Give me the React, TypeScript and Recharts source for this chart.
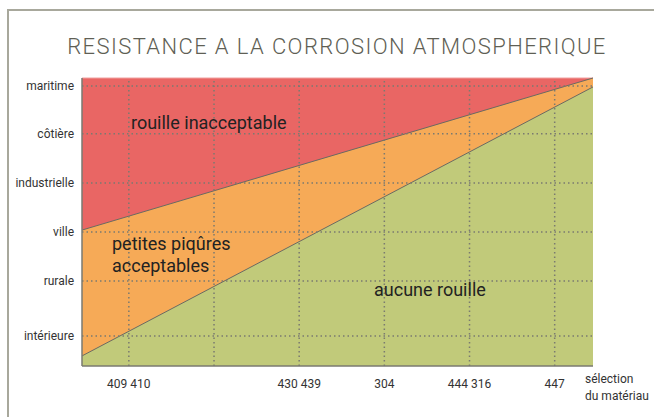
import React from "react";
import { ComposedChart, Area, XAxis, YAxis, ReferenceLine } from "recharts";

// x positions of the material selection ticks (index scale)
const xTicks = [0, 1, 2, 3, 4, 5];
const xLabels = ["409 410", "", "430 439", "304", "444 316", "447"];

// y scale (0..100) positions of the environment categories
const yTicks = [10.4, 29.5, 46.5, 63.5, 80.6, 97.2];
const yLabels = ["intérieure", "rurale", "ville", "industrielle", "côtière", "maritime"];

// boundary lines at the left and right edge of the chart
const xEdges = [-0.55, 5.45];
const topLimit = [100, 100];
const redOrangeBoundary = [47.2, 100];
const orangeGreenBoundary = [3.5, 96.9];

const data = xEdges.map((x, i) => ({
  x,
  top: topLimit[i],
  upper: redOrangeBoundary[i],
  lower: orangeGreenBoundary[i],
}));

const FONT = "Roboto, 'Open Sans', sans-serif";

export default function App() {
  return (
    <div style={{ position: "absolute", left: 0, top: 0, width: 654, height: 417, background: "#fff" }}>
      <ComposedChart
        width={654}
        height={417}
        data={data}
        margin={{ top: 78, right: 61, bottom: 0, left: 0 }}
      >
        <XAxis
          dataKey="x"
          type="number"
          domain={[xEdges[0], xEdges[1]]}
          ticks={xTicks}
          tickFormatter={(v: number, i: number) => xLabels[i]}
          tickLine={false}
          tickSize={0}
          tickMargin={13}
          height={51}
          axisLine={{ stroke: "#7a7a70", strokeWidth: 1.5 }}
          tick={{ fontSize: 12, fill: "#333", fontFamily: FONT }}
          interval={0}
        />
        <YAxis
          type="number"
          domain={[0, 100]}
          ticks={yTicks}
          tickFormatter={(v: number, i: number) => yLabels[i]}
          tickLine={false}
          tickSize={0}
          tickMargin={8}
          width={82}
          axisLine={{ stroke: "#7a7a70", strokeWidth: 1.5 }}
          tick={{ fontSize: 12, fill: "#333", fontFamily: FONT }}
          interval={0}
        />
        <Area
          type="linear"
          dataKey="top"
          stroke="#f0a0a0"
          strokeWidth={1}
          fill="#e96664"
          fillOpacity={1}
          isAnimationActive={false}
          dot={false}
          activeDot={false}
        />
        <Area
          type="linear"
          dataKey="upper"
          stroke="#6a6a62"
          strokeWidth={1}
          fill="#f6aa57"
          fillOpacity={1}
          isAnimationActive={false}
          dot={false}
          activeDot={false}
        />
        <Area
          type="linear"
          dataKey="lower"
          stroke="#6a6a62"
          strokeWidth={1}
          fill="#c1ca7a"
          fillOpacity={1}
          isAnimationActive={false}
          dot={false}
          activeDot={false}
        />
        {yTicks.map((y) => (
          <ReferenceLine key={"y" + y} y={y} stroke="#7a7a70" strokeWidth={1.5} strokeDasharray="1.5 3" />
        ))}
        {xTicks.map((x) => (
          <ReferenceLine key={"x" + x} x={x} stroke="#7a7a70" strokeWidth={1.5} strokeDasharray="1.5 3" />
        ))}
      </ComposedChart>
      <svg
        width={654}
        height={417}
        style={{ position: "absolute", left: 0, top: 0, pointerEvents: "none" }}
      >
        <line x1={8} y1={10} x2={8} y2={417} stroke="#a8a89c" strokeWidth={2} />
        <line x1={7} y1={10} x2={654} y2={10} stroke="#a8a89c" strokeWidth={2} />
        <text
          x={337}
          y={54}
          textAnchor="middle"
          fontFamily={FONT}
          fontWeight={300}
          fontSize={22}
          letterSpacing={1.4}
          fill="#5f5f55"
        >
          RESISTANCE A LA CORROSION ATMOSPHERIQUE
        </text>
        <text x={131} y={129} fontFamily={FONT} fontSize={18} fill="#222">
          rouille inacceptable
        </text>
        <text x={112} y={250} fontFamily={FONT} fontSize={18} fill="#222">
          petites piqûres
        </text>
        <text x={112} y={272} fontFamily={FONT} fontSize={18} fill="#222">
          acceptables
        </text>
        <text x={374} y={296} fontFamily={FONT} fontSize={18} fill="#222">
          aucune rouille
        </text>
        <text x={585} y={383} fontFamily={FONT} fontSize={12} fill="#333">
          sélection
        </text>
        <text x={585} y={400} fontFamily={FONT} fontSize={12} fill="#333">
          du matériau
        </text>
      </svg>
    </div>
  );
}
